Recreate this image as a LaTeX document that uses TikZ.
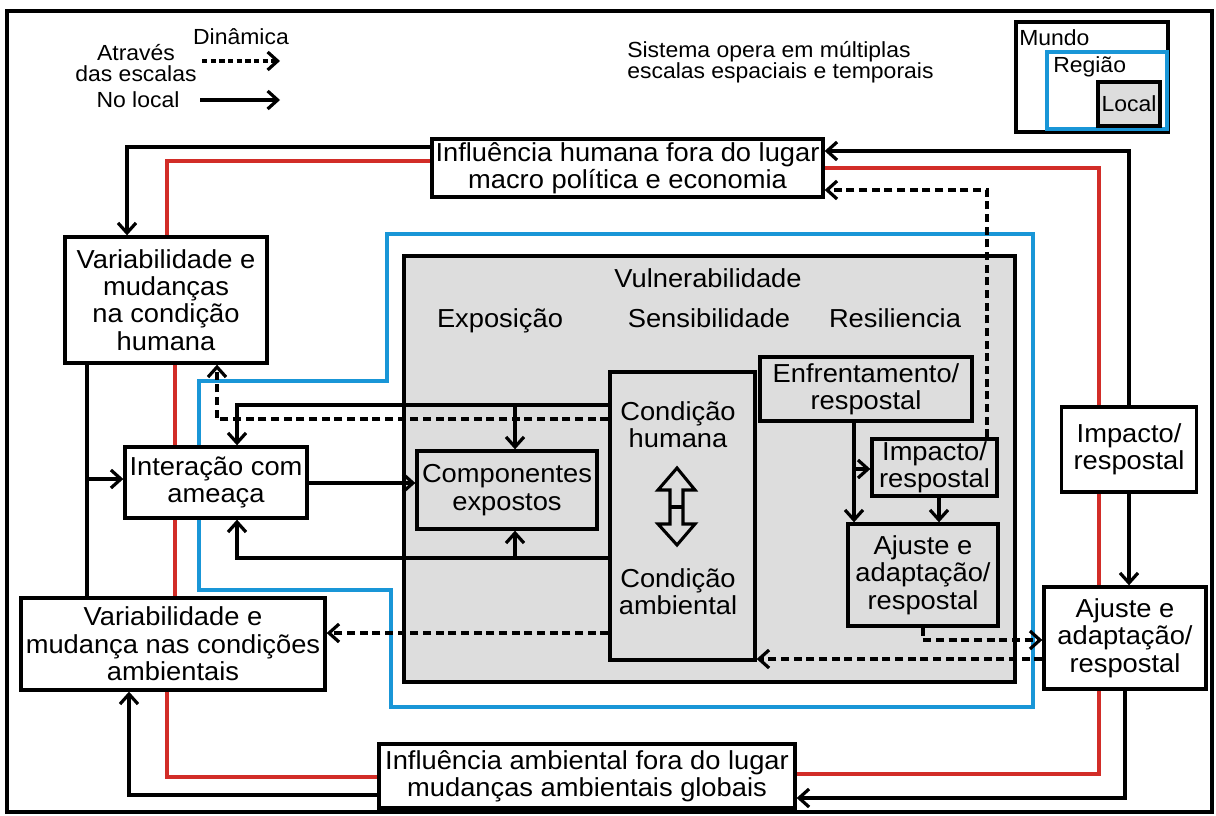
\documentclass[tikz,border=0pt]{standalone}
\usepackage{fontspec}
\setmainfont{Liberation Sans}[FakeStretch=1.05]
\usetikzlibrary{arrows.meta}
\definecolor{redl}{RGB}{210,45,40}
\definecolor{bluel}{RGB}{25,150,215}
\definecolor{grayf}{RGB}{221,221,221}
\pgfdeclarelayer{bottom}\pgfdeclarelayer{lines}\pgfsetlayers{bottom,lines,main}
\newcommand{\bigf}{\fontsize{19.5pt}{20.5pt}\selectfont}
\newcommand{\smf}{\fontsize{16.4pt}{15.5pt}\selectfont}
\begin{document}
\begin{tikzpicture}[x=0.75pt,y=-0.75pt,
 box/.style={draw=black,line width=2.5pt,fill=white,inner sep=0pt,align=center,font=\bigf},
 gbox/.style={box,fill=grayf},
 txt/.style={inner sep=0pt,align=center,font=\bigf},
 stxt/.style={inner sep=0pt,align=center,font=\smf},
 cline/.style={draw=black,line width=2.4pt},
 arr/.style={draw=black,line width=2.4pt,-{Straight Barb[length=7.5pt,width=13.5pt]}},
 darr/.style={draw=black,line width=2.4pt,dash pattern=on 6pt off 3.5pt,-{Straight Barb[length=7.5pt,width=13.5pt]}},
 redline/.style={line width=2.4pt,draw=redl},
 blueline/.style={line width=2.5pt,draw=bluel},
 line join=miter]
\useasboundingbox (0,0) rectangle (1216,816);
\draw[line width=2.4pt] (7,11) rectangle (1212,812);

% legend
\node[stxt] (din) at (241,37) {Dinâmica};
\node[stxt] (atr) at (136,63) {Através\\das escalas};
\node[stxt] (nol) at (138,100) {No local};
\coordinate (l1a) at (202,61); \coordinate (l1b) at (280,61);
\coordinate (l2a) at (200,100); \coordinate (l2b) at (280,100);
\draw[darr,dash pattern=on 4pt off 2.5pt] (l1a) -- (l1b);
\draw[arr] (l2a) -- (l2b);
\node[stxt,anchor=west,align=left] (sis) at (627,62) {Sistema opera em múltiplas\\escalas espaciais e temporais};

\node[draw,line width=2.4pt,inner sep=0pt,minimum width=114pt,minimum height=82.5pt] (mundo) at (1092,77) {};
\node[draw=bluel,line width=2.4pt,inner sep=0pt,minimum width=90pt,minimum height=57.75pt] (regiao) at (1107,90.5) {};
\node[draw,fill=grayf,line width=2.4pt,inner sep=0pt,minimum width=46.5pt,minimum height=33pt,font=\smf] (local) at (1129,104) {Local};
\node[stxt,anchor=west] (mundot) at (1019,38) {Mundo};
\node[stxt,anchor=west] (regiaot) at (1053,67) {Região};

% vulnerability area
\begin{pgfonlayer}{bottom}
\node[gbox,minimum width=458.25pt,minimum height=319.5pt] (vul) at (709.5,469) {};
\end{pgfonlayer}
\node[txt,anchor=base] (vtit) at (708,288) {Vulnerabilidade};
\node[txt,anchor=base] (expo) at (500,328) {Exposição};
\node[txt,anchor=base] (sens) at (709,328) {Sensibilidade};
\node[txt,anchor=base] (resi) at (895,328) {Resiliencia};

% boxes
\node[box,minimum width=293.25pt,minimum height=43.5pt] (infH) at (627.5,168) {Influência humana fora do lugar\\macro política e economia};
\node[box,minimum width=151.5pt,minimum height=94.5pt] (varH) at (166,300) {Variabilidade e\\mudanças\\na condição\\humana};
\node[box,minimum width=136.5pt,minimum height=53.25pt] (inter) at (216,482.5) {Interação com\\ameaça};
\node[box,minimum width=228pt,minimum height=69pt] (varA) at (173,644) {Variabilidade e\\mudança nas condições\\ambientais};
\node[box,minimum width=312pt,minimum height=48pt] (infA) at (587,776) {Influência ambiental fora do lugar\\mudanças ambientais globais};
\node[gbox,minimum width=135pt,minimum height=58.5pt] (comp) at (507,490) {Componentes\\expostos};
\node[gbox,minimum width=108.75pt,minimum height=216pt] (cond) at (682.5,516) {};
\node[txt] (condh) at (678,425) {Condição\\humana};
\node[txt] (conda) at (678,592) {Condição\\ambiental};
\node[gbox,minimum width=159pt,minimum height=48pt] (enf) at (866,389) {Enfrentamento/\\respostal};
\node[gbox,minimum width=93.75pt,minimum height=42.75pt] (impI) at (934.5,467.5) {Impacto/\\respostal};
\node[gbox,minimum width=112.5pt,minimum height=76.5pt] (ajI) at (923,575) {Ajuste e\\adaptação/\\respostal};
\node[box,minimum width=101.25pt,minimum height=63.75pt] (impO) at (1129,449.5) {Impacto/\\respostal};
\node[box,minimum width=121.5pt,minimum height=76.5pt] (ajO) at (1125,638) {Ajuste e\\adaptação/\\respostal};

% double hollow arrow
\draw[line width=2.3pt] (677,468) -- (695,490) -- (683,490) -- (683,524) -- (695,524) -- (677,545) -- (658,524) -- (670,524) -- (670,490) -- (658,490) -- cycle;
\draw[line width=2.3pt] (670,507) -- (683,507);

\begin{pgfonlayer}{lines}
% blue region
\draw[blueline] (199,381) -- (387,381) -- (387,234) -- (1033,234) -- (1033,707) -- (391,707) -- (391,590) -- (199,590) -- cycle;
% red world loop
\draw[redline] (infH.west |- 0,161) -| (167,0 |- varH.north);
\draw[redline] (175,0 |- varH.south) -- (175,0 |- varA.north);
\draw[redline] (167,0 |- varA.south) |- (infA.west |- 0,777);
\draw[redline] (infA.east |- 0,774) -| (1099,0 |- ajO.south);
\draw[redline] (1099,0 |- ajO.north) |- (infH.east |- 0,168);
% outer black connectors
\draw[arr] (infH.west |- 0,147) -| (127,0 |- varH.north);
\draw[arr] (impO.north) |- (infH.east |- 0,151);
\draw[darr] (987,0 |- impI.north) |- (infH.east |- 0,190);
\draw[arr] (impO.south) -- (impO.south |- ajO.north);
\draw[arr] (ajO.south) |- (infA.east |- 0,798);
\draw[arr] (infA.west |- 0,795) -| (129,0 |- varA.south);
\draw[cline] (87,0 |- varH.south) -- (87,0 |- varA.north);
\coordinate (jl) at (87,479);
\draw[arr] (jl) -- (inter.west |- jl);
% middle connectors
\coordinate (j1) at (515,405);
\coordinate (j2) at (515,558);
\draw[arr] (cond.west |- 0,405) -| (237,0 |- inter.north);
\draw[arr] (j1) -- (j1 |- comp.north);
\draw[darr] (cond.west |- 0,419) -| (217,0 |- varH.south);
\draw[arr] (inter.east |- 0,483) -- (comp.west |- 0,483);
\draw[arr] (cond.west |- 0,558) -| (237,0 |- inter.south);
\draw[arr] (j2) -- (j2 |- comp.south);
\draw[darr] (cond.west |- 0,633) -- (varA.east |- 0,633);
% resilience connectors
\coordinate (j3) at (854,469);
\draw[arr] (854,0 |- enf.south) -- (854,0 |- ajI.north);
\draw[arr] (j3) -- (impI.west |- j3);
\draw[arr] (939,0 |- impI.south) -- (939,0 |- ajI.north);
\draw[darr] (923,0 |- ajI.south) |- (ajO.west |- 0,640);
\draw[darr] (ajO.west |- 0,659) -- (cond.east |- 0,659);
\end{pgfonlayer}
\end{tikzpicture}
\end{document}
